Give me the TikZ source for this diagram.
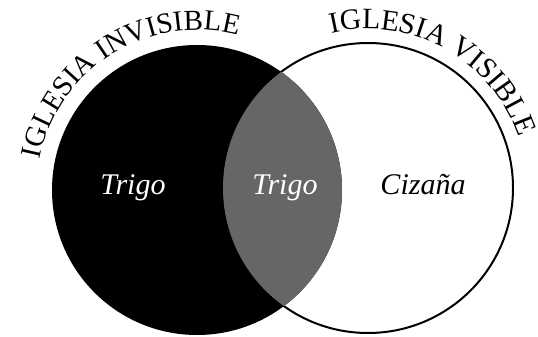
\documentclass[tikz,border=0pt]{standalone}
\usepackage{fontspec}
\setmainfont{Liberation Serif}
\usetikzlibrary{decorations.text,calc}
\definecolor{interg}{HTML}{666666}
\tikzset{
  setlabel/.style={anchor=base, font=\fontsize{30}{30}\selectfont\itshape, inner sep=0pt},
}
\begin{document}
\begin{tikzpicture}[x=1pt,y=1pt]
\useasboundingbox (0,0) rectangle (538,337);
\coordinate (L) at (197,147);
\coordinate (R) at (368,149);
% right circle (visible church)
\draw[line width=2pt, fill=white] (R) circle[radius=145];
% left circle (invisible church)
\fill[black] (L) circle[radius=145];
% intersection
\begin{scope}
  \clip (L) circle[radius=145];
  \fill[interg] (R) circle[radius=145];
\end{scope}
% labels inside
\node[setlabel, text=white] (t1) at (133,142) {Trigo};
\node[setlabel, text=white] (t2) at (285,142) {Trigo};
\node[setlabel, text=black] (t3) at (423,142) {Cizaña};
% curved titles
\path[decorate, decoration={text along path, text align=center,
  text={|\fontsize{29}{29}\selectfont|IGLESIA INVISIBLE}}]
  ($(L)+(172:160)$) arc[start angle=172, end angle=72, radius=160];
\path[decorate, decoration={text along path, text align=center,
  text={|\fontsize{29.5}{29.5}\selectfont|IGLESIA VISIBLE}}]
  ($(R)+(111:159)$) arc[start angle=111, end angle=11, radius=159];
\end{tikzpicture}
\end{document}
